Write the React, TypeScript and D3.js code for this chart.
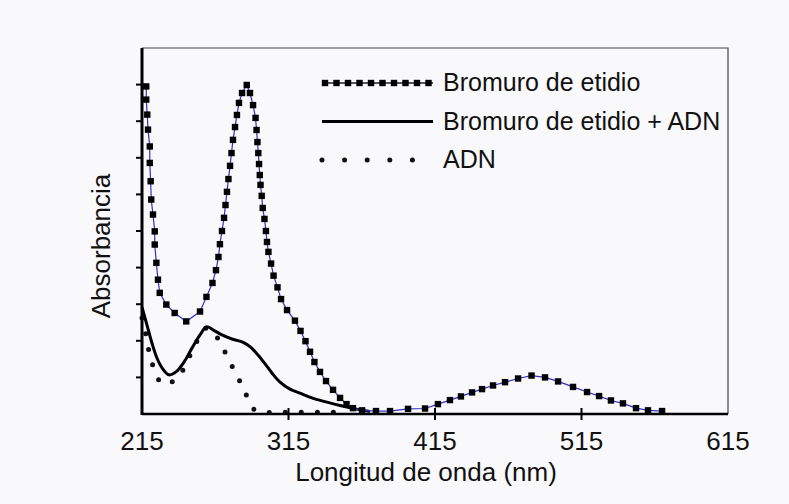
import React, { useEffect, useRef } from 'react';
import * as d3 from 'd3';

// Bromuro de etidio (square markers) - wavelength (nm) / absorbance
const bromuroNm = [
  217.9, 217.9, 218.6, 219.1, 220.3, 220.3, 220.9, 221.3, 222.5, 223.7, 223.7, 224.8, 225.9, 227.1,
  231.6, 237.3, 245.2, 254.6, 259.0, 263.1, 265.5, 267.2, 268.2, 269.6, 271.0, 272.0, 273.0, 274.0,
  275.1, 276.1, 277.1, 278.5, 279.8, 281.2, 283.3, 286.5, 288.7, 290.8, 292.5, 293.2, 293.8, 294.4,
  294.9, 295.4, 295.9, 296.7, 297.4, 298.6, 299.6, 300.3, 301.3, 303.1, 304.8, 307.5, 309.9, 314.0,
  319.4, 323.2, 326.6, 329.7, 332.7, 336.5, 340.6, 345.4, 350.2, 354.6, 359.0, 365.2, 374.7, 384.3,
  396.6, 408.2, 417.0, 425.2, 432.7, 440.3, 447.1, 454.6, 462.8, 471.7, 480.9, 490.1, 499.0, 509.2,
  518.8, 527.0, 535.1, 543.3, 552.2, 560.4, 570.0
];
const bromuroAbs = [
  0.895, 0.859, 0.818, 0.777, 0.731, 0.686, 0.636, 0.586, 0.545, 0.499, 0.463, 0.413, 0.367, 0.331,
  0.299, 0.276, 0.253, 0.280, 0.320, 0.358, 0.393, 0.429, 0.464, 0.500, 0.536, 0.571, 0.607, 0.642,
  0.678, 0.713, 0.749, 0.784, 0.817, 0.850, 0.877, 0.899, 0.877, 0.844, 0.809, 0.776, 0.743, 0.713,
  0.683, 0.653, 0.626, 0.596, 0.563, 0.533, 0.500, 0.470, 0.443, 0.411, 0.378, 0.346, 0.314, 0.284,
  0.255, 0.227, 0.199, 0.170, 0.142, 0.115, 0.090, 0.066, 0.044, 0.027, 0.016, 0.010, 0.008, 0.008,
  0.014, 0.015, 0.027, 0.038, 0.048, 0.059, 0.068, 0.078, 0.087, 0.097, 0.105, 0.100, 0.089, 0.074,
  0.060, 0.049, 0.037, 0.029, 0.016, 0.010, 0.008
];

// Bromuro de etidio + ADN (solid line)
const complejoNm = [
  215, 218.4, 221.8, 225.2, 228.7, 233.4, 238.2, 243.7, 249.1, 254.6, 259.0, 263.5, 269.6, 276.4,
  283.3, 288.7, 294.2, 299.0, 303.7, 309.2, 316.0, 322.8, 331.0, 340.6, 350.2, 360.4, 370.6
];
const complejoAbs = [
  0.292, 0.243, 0.194, 0.153, 0.126, 0.107, 0.115, 0.142, 0.180, 0.216, 0.238, 0.230, 0.216, 0.205,
  0.197, 0.184, 0.161, 0.137, 0.112, 0.087, 0.068, 0.057, 0.044, 0.033, 0.023, 0.014, 0.007
];

// ADN (dotted line)
const adnNm = [
  215, 217.7, 219.1, 220.8, 222.5, 225.2, 228.3, 233.4, 238.9, 244.4, 249.8, 254.6, 259.0, 263.5,
  267.6, 272.3, 278.5, 284.1, 288.7, 292.1, 299.0, 316.0, 336.5, 353.6
];
const adnAbs = [
  0.262, 0.216, 0.183, 0.156, 0.131, 0.104, 0.083, 0.085, 0.096, 0.131, 0.178, 0.213, 0.235, 0.221,
  0.202, 0.164, 0.115, 0.071, 0.030, 0.011, 0.005, 0.005, 0.005, 0.005
];

const xTicks = [215, 315, 415, 515, 615];
const yTicks = [0.1, 0.2, 0.3, 0.4, 0.5, 0.6, 0.7, 0.8, 0.9];
const legendLabels = ['Bromuro de etidio', 'Bromuro de etidio + ADN', 'ADN'];

const FONT = '"Liberation Sans", Arial, sans-serif';

const App = () => {
  const ref = useRef<SVGSVGElement>(null);

  useEffect(() => {
    const width = 789;
    const height = 504;
    const left = 142, right = 728, top = 48, bottom = 414;

    const x = d3.scaleLinear().domain([215, 615]).range([left, right]);
    const y = d3.scaleLinear().domain([0, 1]).range([bottom, top]);

    const svg = d3.select(ref.current);
    svg.selectAll('*').remove();

    svg.append('rect')
      .attr('width', width)
      .attr('height', height)
      .attr('fill', '#f9f8fb');

    // plot frame (top / right)
    svg.append('path')
      .attr('d', `M${left},${top}H${right}V${bottom}`)
      .attr('fill', 'none')
      .attr('stroke', '#444')
      .attr('stroke-width', 1.2);

    const bromuro = bromuroNm.map((d, i) => [d, bromuroAbs[i]]);
    const complejo = complejoNm.map((d, i) => [d, complejoAbs[i]]);
    const adn = adnNm.map((d, i) => [d, adnAbs[i]]);

    const line = d3.line<number[]>().x(d => x(d[0])).y(d => y(d[1]));
    const smooth = d3.line<number[]>().x(d => x(d[0])).y(d => y(d[1])).curve(d3.curveCatmullRom);

    // ADN dotted
    svg.append('path')
      .attr('d', smooth(adn))
      .attr('fill', 'none')
      .attr('stroke', '#111')
      .attr('stroke-width', 5)
      .attr('stroke-linecap', 'round')
      .attr('stroke-dasharray', '0 16');

    // Bromuro + ADN solid
    svg.append('path')
      .attr('d', smooth(complejo))
      .attr('fill', 'none')
      .attr('stroke', '#000')
      .attr('stroke-width', 3)
      .attr('stroke-linejoin', 'round');

    // Bromuro: thin blue line + square markers
    svg.append('path')
      .attr('d', line(bromuro))
      .attr('fill', 'none')
      .attr('stroke', '#3030c8')
      .attr('stroke-width', 1.2);

    svg.append('g')
      .selectAll('rect')
      .data(bromuro)
      .enter()
      .append('rect')
      .attr('x', d => x(d[0]) - 3.2)
      .attr('y', d => y(d[1]) - 3.2)
      .attr('width', 6.4)
      .attr('height', 6.4)
      .attr('fill', '#000');

    // axes
    svg.append('line')
      .attr('x1', left).attr('x2', right)
      .attr('y1', bottom).attr('y2', bottom)
      .attr('stroke', '#000').attr('stroke-width', 2.5);

    svg.append('line')
      .attr('x1', left).attr('x2', left)
      .attr('y1', top).attr('y2', bottom + 1)
      .attr('stroke', '#000').attr('stroke-width', 3);

    svg.append('g')
      .selectAll('line')
      .data(xTicks.slice(1, -1))
      .enter()
      .append('line')
      .attr('x1', d => x(d)).attr('x2', d => x(d))
      .attr('y1', bottom - 6).attr('y2', bottom + 6)
      .attr('stroke', '#000').attr('stroke-width', 2);

    svg.append('g')
      .selectAll('line')
      .data(yTicks)
      .enter()
      .append('line')
      .attr('x1', left - 6).attr('x2', left)
      .attr('y1', d => y(d)).attr('y2', d => y(d))
      .attr('stroke', '#000').attr('stroke-width', 2);

    svg.append('g')
      .selectAll('text')
      .data(xTicks)
      .enter()
      .append('text')
      .attr('x', d => x(d))
      .attr('y', 450)
      .attr('text-anchor', 'middle')
      .attr('font-family', FONT)
      .attr('font-size', 26)
      .attr('fill', '#111')
      .text(d => d);

    svg.append('text')
      .attr('x', 426)
      .attr('y', 481)
      .attr('text-anchor', 'middle')
      .attr('font-family', FONT)
      .attr('font-size', 26)
      .attr('fill', '#111')
      .text('Longitud de onda (nm)');

    svg.append('text')
      .attr('transform', 'translate(110,246) rotate(-90)')
      .attr('text-anchor', 'middle')
      .attr('font-family', FONT)
      .attr('font-size', 26)
      .attr('fill', '#111')
      .text('Absorbancia');

    // legend
    const legY = [83, 121.5, 160];
    const legX0 = 322, legX1 = 433;
    const leg = svg.append('g');

    leg.append('line')
      .attr('x1', legX0).attr('x2', legX1)
      .attr('y1', legY[0]).attr('y2', legY[0])
      .attr('stroke', '#222').attr('stroke-width', 1.5);
    leg.selectAll('rect')
      .data(d3.range(10))
      .enter()
      .append('rect')
      .attr('x', i => legX0 + 3 + i * 11.5 - 3.2)
      .attr('y', legY[0] - 3.2)
      .attr('width', 6.4).attr('height', 6.4)
      .attr('fill', '#000');

    leg.append('line')
      .attr('x1', legX0).attr('x2', legX1)
      .attr('y1', legY[1]).attr('y2', legY[1])
      .attr('stroke', '#000').attr('stroke-width', 3);

    leg.append('line')
      .attr('x1', legX0).attr('x2', legX1 + 2)
      .attr('y1', legY[2]).attr('y2', legY[2])
      .attr('stroke', '#111').attr('stroke-width', 5)
      .attr('stroke-linecap', 'round')
      .attr('stroke-dasharray', '0 22.6');

    leg.selectAll('text')
      .data(legendLabels)
      .enter()
      .append('text')
      .attr('x', 443)
      .attr('y', (d, i) => legY[i] + 8)
      .attr('font-family', FONT)
      .attr('font-size', 25)
      .attr('fill', '#111')
      .text(d => d);
  }, []);

  return (
    <svg ref={ref} width={789} height={504} style={{ position: 'absolute', left: 0, top: 0 }}></svg>
  );
};

export default App;
